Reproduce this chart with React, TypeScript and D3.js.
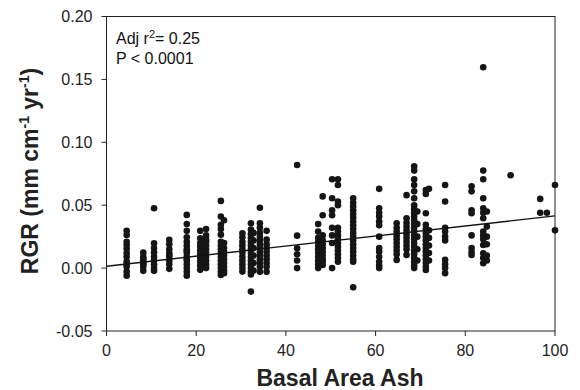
import React from 'react'
import * as d3 from 'd3'

// basal area of ash for each plot column, and the RGR values measured there
const basalArea = [
  4.5, 8.2, 10.6, 14.0, 17.9, 20.9, 22.2, 25.5, 26.2, 30.3, 32.2, 32.8, 34.2, 35.7,
  42.5, 47.2, 48.2, 50.3, 51.6, 55.0, 60.8, 64.7, 66.9, 68.6, 69.3, 71.2, 71.9,
  75.5, 81.4, 84.0, 84.8, 90.1, 96.7, 98.2, 100,
]

const rgrBySite = [
  [0.0296, 0.0264, 0.0184, 0.0153, 0.0091, 0.0052, 0.0012, -0.0028, -0.006, 0.021, 0.012, 0.003],
  [0.0123, 0.009, 0.006, 0.003, 0.001, -0.0022, 0.0075, 0.004],
  [0.0476, 0.0197, 0.016, 0.0125, 0.009, 0.006, 0.003, 0.0, -0.0022],
  [0.0224, 0.019, 0.015, 0.012, 0.009, 0.006, 0.003, -0.0006, 0.0105],
  [0.0423, 0.035, 0.0296, 0.021, 0.018, 0.015, 0.012, 0.009, 0.006, 0.003, 0.0, -0.003, -0.006, 0.0245, 0.0135, 0.0075],
  [0.0296, 0.0237, 0.02, 0.017, 0.014, 0.011, 0.008, 0.005, 0.002, -0.0014],
  [0.031, 0.026, 0.021, 0.018, 0.015, 0.012, 0.009, 0.006, 0.003, 0.0, 0.0225],
  [0.0534, 0.041, 0.0345, 0.031, 0.0266, 0.021, 0.018, 0.015, 0.012, 0.009, 0.006, 0.003, 0.0, -0.003, -0.0054],
  [0.038, 0.02, 0.016, 0.013, 0.01, 0.007, 0.004, 0.001, -0.002, -0.004],
  [0.0277, 0.0245, 0.021, 0.018, 0.015, 0.012, 0.009, 0.006, 0.003, 0.0, -0.0028],
  [0.0356, 0.0306, 0.027, 0.024, 0.021, 0.018, 0.015, 0.012, 0.009, 0.006, 0.003, 0.0, -0.003, -0.005, -0.0187],
  [0.028, 0.022, 0.016, 0.01, 0.004, -0.002],
  [0.048, 0.0356, 0.032, 0.028, 0.025, 0.022, 0.019, 0.016, 0.013, 0.01, 0.007, 0.004, 0.001, -0.003],
  [0.0296, 0.0226, 0.019, 0.016, 0.013, 0.01, 0.007, 0.004, 0.001, -0.003],
  [0.082, 0.0258, 0.0157, 0.011, 0.006, 0.0],
  [0.035, 0.029, 0.024, 0.021, 0.018, 0.015, 0.012, 0.009, 0.006, 0.003, 0.0],
  [0.042, 0.057, 0.026, 0.022, 0.019, 0.016, 0.013, 0.01, 0.007, 0.005, 0.0025],
  [0.0706, 0.0555, 0.046, 0.042, 0.032, 0.026, 0.02, 0.0],
  [0.0706, 0.066, 0.053, 0.05, 0.032, 0.029, 0.026, 0.023, 0.02, 0.017, 0.014, 0.011, 0.008, 0.005],
  [0.0555, 0.052, 0.049, 0.046, 0.043, 0.04, 0.037, 0.034, 0.031, 0.028, 0.025, 0.022, 0.019, 0.016, 0.013, 0.01, 0.007, 0.005, -0.0153],
  [0.063, 0.0476, 0.044, 0.041, 0.037, 0.034, 0.025, 0.016, 0.013, 0.009, 0.005, 0.002, 0.0],
  [0.0356, 0.032, 0.029, 0.026, 0.023, 0.02, 0.017, 0.014, 0.011, 0.0065],
  [0.058, 0.0396, 0.036, 0.033, 0.03, 0.027, 0.024, 0.021, 0.018, 0.015, 0.0105],
  [0.081, 0.0775, 0.0706, 0.066, 0.061, 0.0555, 0.05, 0.047, 0.044, 0.041, 0.038, 0.035, 0.032, 0.029, 0.026, 0.023, 0.02, 0.017, 0.014, 0.011, 0.008, 0.005, 0.002, 0.0],
  [0.045, 0.035, 0.025, 0.015, 0.006],
  [0.062, 0.059, 0.0436, 0.0345, 0.031, 0.028, 0.025, 0.022, 0.019, 0.016, 0.013, 0.01, 0.007, 0.004, 0.001, -0.0015],
  [0.063, 0.03, 0.024, 0.018, 0.012, 0.006],
  [0.066, 0.053, 0.032, 0.029, 0.025, 0.022, 0.0065, 0.003, 0.0, -0.004],
  [0.065, 0.061, 0.046, 0.0436, 0.026, 0.016, 0.013, 0.0105],
  [0.1596, 0.0775, 0.0706, 0.0555, 0.0476, 0.044, 0.0396, 0.029, 0.026, 0.023, 0.0184, 0.0118, 0.008, 0.0038],
  [0.045, 0.033, 0.025, 0.019, 0.01, 0.006],
  [0.0738],
  [0.055, 0.044],
  [0.044],
  [0.066, 0.03],
]

// fitted regression line end points
const fitX = [0, 100]
const fitY = [0.0015, 0.0415]

const xTicks = [0, 20, 40, 60, 80, 100]
const yTicks = [-0.05, 0, 0.05, 0.1, 0.15, 0.2]

const FONT = '"Liberation Sans", Arial, Helvetica, sans-serif'
const fmtY = (t: number) => d3.format('.2f')(t).replace('\u2212', '-')

export default function App() {
  const W = 580
  const H = 390
  const pad = { l: 106.5, r: 25, t: 16.5, b: 59 }

  const x = d3.scaleLinear().domain([0, 100]).range([pad.l, W - pad.r])
  const y = d3.scaleLinear().domain([-0.05, 0.2]).range([H - pad.b, pad.t])

  const points = basalArea.flatMap((ba, i) => rgrBySite[i].map(v => ({ ba, v })))
  const line = d3.line<number>().x(d => x(fitX[d])).y(d => y(fitY[d]))

  const x0 = x(0), x1 = x(100), y0 = y(-0.05), y1 = y(0.2)

  return (
    <svg width={W} height={H} style={{ position: 'fixed', left: 0, top: 0, background: '#fff' }} fontFamily={FONT}>
      <rect x={x0} y={y1} width={x1 - x0} height={y0 - y1} fill="none" stroke="#222" strokeWidth={1} />

      {yTicks.map(t => (
        <g key={'y' + t}>
          <line x1={x0 - 5} x2={x0} y1={y(t)} y2={y(t)} stroke="#222" />
          <text x={x0 - 14} y={y(t)} dy="0.35em" textAnchor="end" fontSize={16} fill="#222">
            {fmtY(t)}
          </text>
        </g>
      ))}

      {xTicks.map(t => (
        <g key={'x' + t}>
          <line x1={x(t)} x2={x(t)} y1={y0} y2={y0 + 5} stroke="#222" />
          <text x={x(t)} y={y0 + 25} textAnchor="middle" fontSize={16} fill="#222">{t}</text>
        </g>
      ))}

      {points.map((p, i) => (
        <circle key={i} cx={x(p.ba)} cy={y(p.v)} r={3.3} fill="#151515" />
      ))}

      <path d={line([0, 1]) || ''} stroke="#111" strokeWidth={1.4} fill="none" />

      <text x={116} y={44} fontSize={16} fill="#111">
        Adj r<tspan dy={-6} fontSize={11}>2</tspan><tspan dy={6}>= 0.25</tspan>
      </text>
      <text x={116} y={63.5} fontSize={16} fill="#111">P &lt; 0.0001</text>

      <text x={340} y={385.5} textAnchor="middle" fontSize={23} fontWeight="bold" fill="#222">Basal Area Ash</text>

      <text transform={`translate(38,171) rotate(-90)`} textAnchor="middle" fontSize={23} fontWeight="bold" fill="#222">
        RGR (mm cm<tspan dy={-9} fontSize={14}>-1</tspan><tspan dy={9}> yr</tspan><tspan dy={-9} fontSize={14}>-1</tspan><tspan dy={9}>)</tspan>
      </text>
    </svg>
  )
}
